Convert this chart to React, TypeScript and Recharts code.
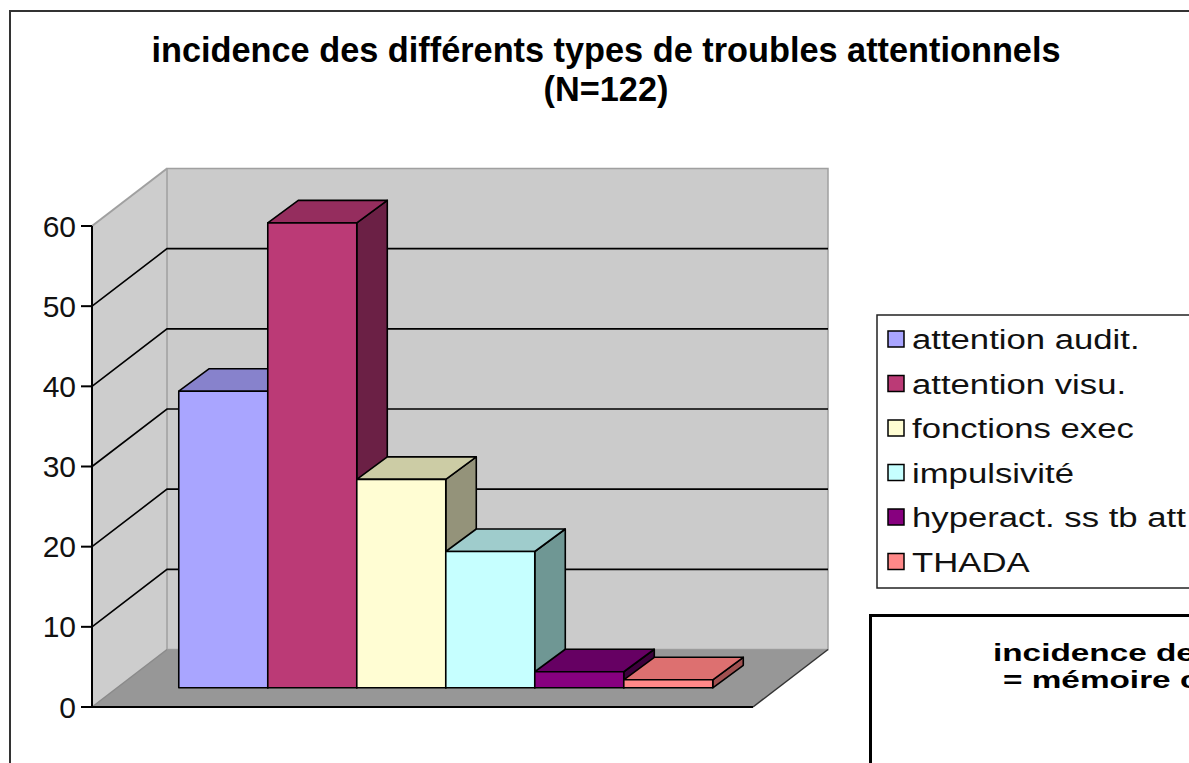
import React from 'react'
import { BarChart, Bar, XAxis, YAxis, ReferenceArea, ReferenceLine } from 'recharts'

// one group, six series
const categories = ['']
const seriesNames = ['attention audit.', 'attention visu.', 'fonctions exec', 'impulsivité', 'hyperact. ss tb att', 'THADA']
const seriesValues = [37, 58, 26, 17, 2, 1]
const yTicks = [0, 10, 20, 30, 40, 50, 60]
const gridValues = [10, 20, 30, 40, 50]
const titleLines = ['incidence des différents types de troubles attentionnels', '(N=122)']
const nextChartTitle = ['incidence des', '= mémoire c']

const palette = [
  { front: '#A9A5FF', top: '#8782CC', side: '#5F5B9E' },
  { front: '#BB3A76', top: '#952D5E', side: '#6B2045' },
  { front: '#FFFDD3', top: '#CCCCA5', side: '#94937A' },
  { front: '#C6FFFF', top: '#9FCCCC', side: '#6F9794' },
  { front: '#87007F', top: '#660063', side: '#3D003C' },
  { front: '#FF8888', top: '#DD7070', side: '#A05050' },
]

const data = categories.map((name) => {
  const row: Record<string, string | number> = { name }
  seriesValues.forEach((v, i) => { row[`s${i}`] = v })
  return row
})

// perspective offsets
const WALL_DX = 75
const WALL_DY = -57.5
const FRONT_DX = 22
const FRONT_DY = -19.2
const DEPTH_DX = 30.5
const DEPTH_DY = -22.5

const FONT = '"Liberation Sans", Arial, sans-serif'

function Walls({ x, y, width, height }: any) {
  const bottom = y + height
  const right = x + width
  const p = (px: number, py: number) => `${px},${py}`
  return (
    <g>
      {/* left side wall */}
      <polygon
        points={[p(x, y), p(x + WALL_DX, y + WALL_DY), p(x + WALL_DX, bottom + WALL_DY), p(x, bottom)].join(' ')}
        fill="#CDCDCD" stroke="none" />
      {/* back wall */}
      <rect x={x + WALL_DX} y={y + WALL_DY} width={width} height={height} fill="#CBCBCB" stroke="#A0A0A0" strokeWidth={1.5} />
      <line x1={x} y1={y} x2={x + WALL_DX} y2={y + WALL_DY} stroke="#A0A0A0" strokeWidth={2} />
      {/* floor */}
      <polygon
        points={[p(x, bottom), p(right, bottom), p(right + WALL_DX, bottom + WALL_DY), p(x + WALL_DX, bottom + WALL_DY)].join(' ')}
        fill="#979797" stroke="none" />
      <line x1={x} y1={bottom} x2={x + WALL_DX} y2={bottom + WALL_DY} stroke="#8A8A8A" strokeWidth={1.5} />
      <line x1={right} y1={bottom} x2={right + WALL_DX} y2={bottom + WALL_DY} stroke="#333" strokeWidth={1.5} />
      <line x1={x} y1={bottom} x2={right} y2={bottom} stroke="#000" strokeWidth={2} />
    </g>
  )
}

function WallGridLine({ x1, y1, x2, y2 }: any) {
  return (
    <polyline
      points={`${x1},${y1} ${x1 + WALL_DX},${y1 + WALL_DY} ${x2 + WALL_DX},${y2 + WALL_DY}`}
      fill="none" stroke="#000" strokeWidth={1.6} />
  )
}

function Box3D({ x, y, width, height, pal }: any) {
  if (width == null || height == null) return null
  const fx = x + FRONT_DX
  const fy = y + FRONT_DY
  const top = `${fx},${fy} ${fx + DEPTH_DX},${fy + DEPTH_DY} ${fx + width + DEPTH_DX},${fy + DEPTH_DY} ${fx + width},${fy}`
  const side = `${fx + width},${fy} ${fx + width + DEPTH_DX},${fy + DEPTH_DY} ${fx + width + DEPTH_DX},${fy + height + DEPTH_DY} ${fx + width},${fy + height}`
  return (
    <g stroke="#000" strokeWidth={1.6} strokeLinejoin="round">
      <polygon points={side} fill={pal.side} />
      <polygon points={top} fill={pal.top} />
      <rect x={fx} y={fy} width={width} height={height} fill={pal.front} />
    </g>
  )
}

function Legend3D() {
  return (
    <g fontFamily={FONT}>
      <rect x={877} y={315} width={400} height={273} fill="#fff" stroke="#222" strokeWidth={1.5} />
      {seriesNames.map((name, i) => {
        const cy = 339 + i * 44.5
        return (
          <g key={name}>
            <rect x={888} y={cy - 8} width={16} height={16} fill={palette[i].front} stroke="#000" strokeWidth={1.5} />
            <text transform={`translate(912, ${cy + 10}) scale(1.24, 1)`} fontSize={28} fill="#111">{name}</text>
          </g>
        )
      })}
    </g>
  )
}

export default function App() {
  return (
    <div style={{ position: 'absolute', left: 0, top: 0, width: 1189, height: 763, overflow: 'hidden', background: '#fff' }}>
      <svg width={1189} height={763} style={{ position: 'absolute', left: 0, top: 0 }}>
        <rect x={10} y={11} width={1400} height={1000} fill="#fff" stroke="#333" strokeWidth={2} />
        <g fontFamily={FONT} fontWeight="bold" fontSize={34.3} fill="#000" textAnchor="middle">
          <text x={606} y={62}>{titleLines[0]}</text>
          <text x={606} y={101}>{titleLines[1]}</text>
        </g>
      </svg>
      <div style={{ position: 'absolute', left: 0, top: 0 }}>
        <BarChart width={1189} height={763} data={data}
          margin={{ top: 226, right: 436, bottom: 56, left: 0 }}
          barCategoryGap="9.8%" barGap={0}>
          <XAxis dataKey="name" hide />
          <YAxis type="number" domain={[0, 60]} ticks={yTicks} interval={0} width={92}
            tickSize={11} tickMargin={5}
            axisLine={{ stroke: '#000', strokeWidth: 2 }}
            tickLine={{ stroke: '#000', strokeWidth: 2 }}
            tick={{ fontSize: 30, fill: '#111', fontFamily: FONT }} />
          <ReferenceArea y1={0} y2={60} zIndex={-200} ifOverflow="visible" shape={(p: any) => <Walls {...p} />} />
          {gridValues.map(v => (
            <ReferenceLine key={v} y={v} zIndex={-150} shape={(p: any) => <WallGridLine {...p} />} />
          ))}
          {seriesNames.map((name, i) => (
            <Bar key={name} dataKey={`s${i}`} name={name} isAnimationActive={false}
              shape={(p: any) => <Box3D {...p} pal={palette[i]} />} />
          ))}
        </BarChart>
      </div>
      <svg width={1189} height={763} style={{ position: 'absolute', left: 0, top: 0, pointerEvents: 'none' }}>
        <Legend3D />
        <rect x={870.5} y={615.5} width={400} height={300} fill="#fff" stroke="#000" strokeWidth={3} />
        <g fontFamily={FONT} fontWeight="bold" fontSize={23} fill="#000">
          <text transform="translate(993, 661) scale(1.45, 1)">{nextChartTitle[0]}</text>
          <text transform="translate(1003, 688) scale(1.45, 1)">{nextChartTitle[1]}</text>
        </g>
      </svg>
    </div>
  )
}
